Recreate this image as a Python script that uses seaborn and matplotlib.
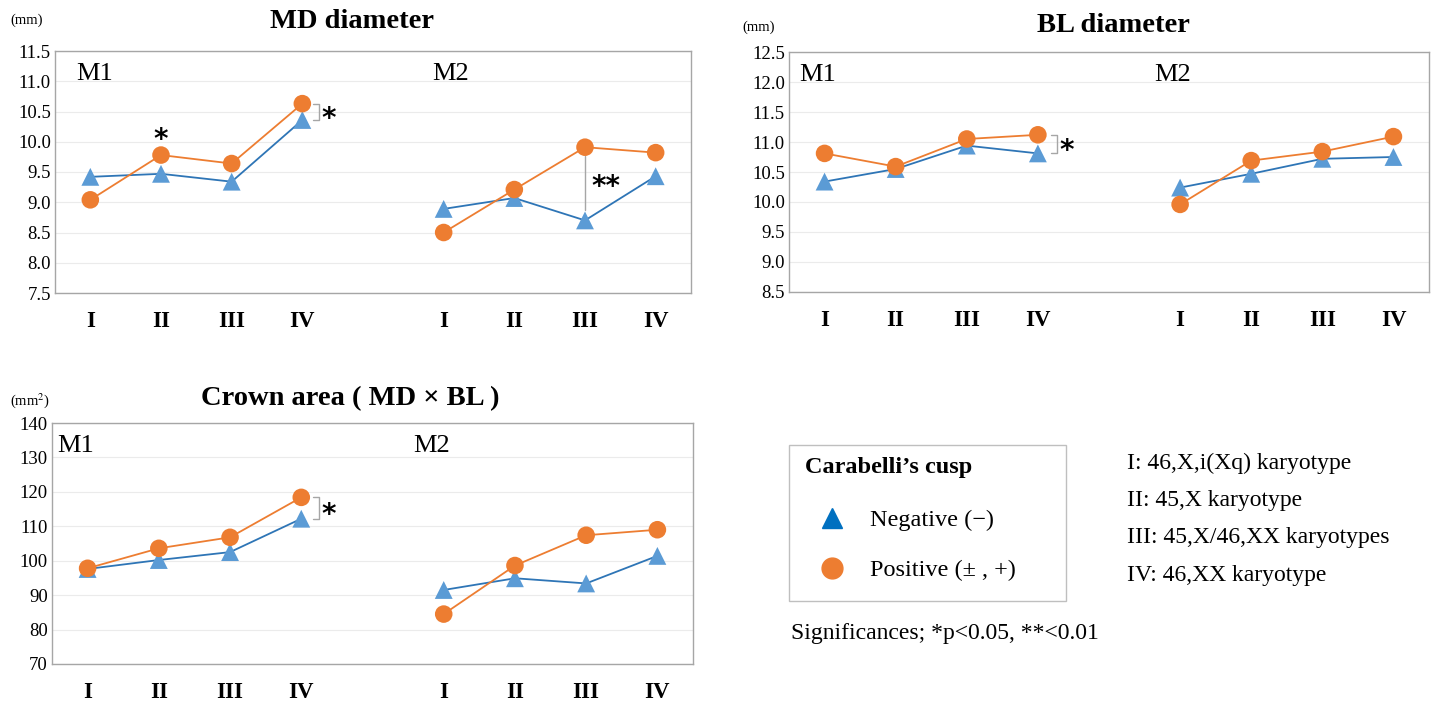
import numpy as np
import pandas as pd
import seaborn as sns
import matplotlib.pyplot as plt
from matplotlib.lines import Line2D
from matplotlib.patches import Rectangle

# 數值
groups = ['I', 'II', 'III', 'IV']
teeth = ['M1', 'M2']

md_neg_m1 = [9.42, 9.47, 9.34, 10.36]
md_pos_m1 = [9.04, 9.78, 9.64, 10.63]
md_neg_m2 = [8.89, 9.07, 8.70, 9.43]
md_pos_m2 = [8.50, 9.21, 9.91, 9.82]

bl_neg_m1 = [10.34, 10.55, 10.94, 10.81]
bl_pos_m1 = [10.81, 10.59, 11.05, 11.12]
bl_neg_m2 = [10.24, 10.47, 10.72, 10.75]
bl_pos_m2 = [9.96, 10.69, 10.84, 11.09]

ca_neg_m1 = [97.6, 100.2, 102.5, 112.2]
ca_pos_m1 = [97.8, 103.6, 106.8, 118.4]
ca_neg_m2 = [91.5, 94.9, 93.4, 101.4]
ca_pos_m2 = [84.5, 98.6, 107.4, 109.0]

W, H = 1432, 704
BLUE_LINE = '#2E75B6'
BLUE_MK = '#5B9BD5'
ORANGE = '#ED7D31'
GREY = '#A6A6A6'

sns.set_theme(style='white')
plt.rcParams['font.family'] = ['Liberation Serif', 'DejaVu Serif']
plt.rcParams['mathtext.fontset'] = 'stix'
plt.rcParams['text.color'] = 'black'
plt.rcParams['xtick.color'] = 'black'
plt.rcParams['ytick.color'] = 'black'


def fx(px):
    return px / W


def fy(py):
    return 1 - py / H


def make_df(neg1, pos1, neg2, pos2):
    rows = []
    for tooth, off, neg, pos in [('M1', 0, neg1, pos1), ('M2', 5, neg2, pos2)]:
        for i, g in enumerate(groups):
            rows.append({'tooth': tooth, 'pos': off + i, 'group': g, 'cusp': 'Negative', 'value': neg[i]})
            rows.append({'tooth': tooth, 'pos': off + i, 'group': g, 'cusp': 'Positive', 'value': pos[i]})
    return pd.DataFrame(rows)


def draw_panel(ax, df, ylim, step, fmt, title, title_x, title_y, unit, unit_x, unit_y, m1_x, m2_x):
    pal = {'Negative': BLUE_LINE, 'Positive': ORANGE}
    sns.lineplot(data=df, x='pos', y='value', hue='cusp', units='tooth', estimator=None,
                 palette=pal, lw=1.3, legend=False, ax=ax, sort=True)
    neg = df[df.cusp == 'Negative']
    pos = df[df.cusp == 'Positive']
    sns.scatterplot(data=neg, x='pos', y='value', marker='^', color=BLUE_MK, s=165,
                    edgecolor='none', ax=ax, legend=False, zorder=3)
    sns.scatterplot(data=pos, x='pos', y='value', marker='o', color=ORANGE, s=160,
                    edgecolor='none', ax=ax, legend=False, zorder=4)
    ax.set_xlim(-0.5, 8.5)
    ax.set_ylim(*ylim)
    ticks = np.arange(ylim[0], ylim[1] + step / 2, step)
    ax.set_yticks(ticks)
    ax.set_yticklabels([fmt.format(t) for t in ticks], fontsize=13.5)
    ax.set_xticks([0, 1, 2, 3, 5, 6, 7, 8])
    ax.set_xticklabels(groups * 2, fontsize=16.5, fontweight='bold')
    ax.tick_params(axis='x', length=0, pad=13)
    ax.tick_params(axis='y', length=0, pad=3)
    ax.set_xlabel('')
    ax.set_ylabel('')
    ax.grid(axis='y', color='#EBEBEB', lw=0.8)
    ax.set_axisbelow(True)
    for sp in ax.spines.values():
        sp.set_color(GREY)
        sp.set_linewidth(1.0)
    ax.text(m1_x, 0.95, 'M1', transform=ax.transAxes, fontsize=19, va='top', ha='left')
    ax.text(m2_x, 0.95, 'M2', transform=ax.transAxes, fontsize=19, va='top', ha='left')
    fig.text(fx(title_x), fy(title_y), title, fontsize=20.5, fontweight='bold',
             ha='center', va='center')
    fig.text(fx(unit_x), fy(unit_y), unit, fontsize=10.5, ha='left', va='center')


def star(ax, x, y, label='*'):
    ax.annotate(label, (x, y), xytext=(0, -5), textcoords='offset points',
                fontsize=20, fontweight='bold', ha='center', va='center',
                family=['DejaVu Sans'])


def bracket(ax, x, y_top, y_bot, star_x, label='*'):
    ax.plot([x - 0.09, x, x, x - 0.09], [y_top, y_top, y_bot, y_bot], color=GREY, lw=1.0)
    star(ax, star_x, (y_top + y_bot) / 2, label)


fig = plt.figure(figsize=(W / 100, H / 100), dpi=100)

ax_md = fig.add_axes([fx(55), fy(293), 636 / W, 242 / H])
ax_bl = fig.add_axes([fx(789), fy(292), 640 / W, 240 / H])
ax_ca = fig.add_axes([fx(52), fy(664), 641 / W, 241 / H])

draw_panel(ax_md, make_df(md_neg_m1, md_pos_m1, md_neg_m2, md_pos_m2), (7.5, 11.5), 0.5,
           '{:.1f}', 'MD diameter', 352, 21, '(mm)', 10, 20, 0.033, 0.593)
draw_panel(ax_bl, make_df(bl_neg_m1, bl_pos_m1, bl_neg_m2, bl_pos_m2), (8.5, 12.5), 0.5,
           '{:.1f}', 'BL diameter', 1113, 26, '(mm)', 742, 27, 0.016, 0.57)
draw_panel(ax_ca, make_df(ca_neg_m1, ca_pos_m1, ca_neg_m2, ca_pos_m2), (70, 140), 10,
           '{:.0f}', 'Crown area ( MD \u00d7 BL )', 350, 399, '(mm$^2$)', 10, 401, 0.008, 0.563)

# 顯著性標註
star(ax_md, 1, md_pos_m1[1] + 0.37)
bracket(ax_md, 3.24, md_pos_m1[3], md_neg_m1[3], 3.38)
ax_md.plot([7, 7], [md_pos_m2[2] - 0.15, md_neg_m2[2] + 0.18], color=GREY, lw=1.0)
star(ax_md, 7.3, 9.36, '**')
bracket(ax_bl, 3.27, bl_pos_m1[3], bl_neg_m1[3], 3.41)
bracket(ax_ca, 3.25, ca_pos_m1[3], ca_neg_m1[3], 3.38)

# 圖例
fig.add_artist(Rectangle((fx(789), fy(601)), 277 / W, 156 / H, transform=fig.transFigure,
                         fill=False, edgecolor='#BFBFBF', lw=1.0))
fig.text(fx(805), fy(468), 'Carabelli\u2019s cusp', fontsize=17.5, fontweight='bold', va='center')
fig.add_artist(Line2D([fx(832)], [fy(518)], marker='^', color='#0070C0', markersize=15,
                      linestyle='none', transform=fig.transFigure))
fig.add_artist(Line2D([fx(832)], [fy(568)], marker='o', color=ORANGE, markersize=15,
                      linestyle='none', transform=fig.transFigure))
fig.text(fx(870), fy(520), 'Negative (\u2212)', fontsize=17.5, va='center')
fig.text(fx(870), fy(570), 'Positive (\u00b1 , +)', fontsize=17.5, va='center')
fig.text(fx(791), fy(634), 'Significances; *p<0.05, **<0.01', fontsize=17, va='center')

notes = ['I: 46,X,i(Xq) karyotype', 'II: 45,X karyotype',
         'III: 45,X/46,XX karyotypes', 'IV: 46,XX karyotype']
for i, t in enumerate(notes):
    fig.text(fx(1127), fy(463 + 37.5 * i), t, fontsize=17, va='center')

fig.savefig('out.png', dpi=100)
